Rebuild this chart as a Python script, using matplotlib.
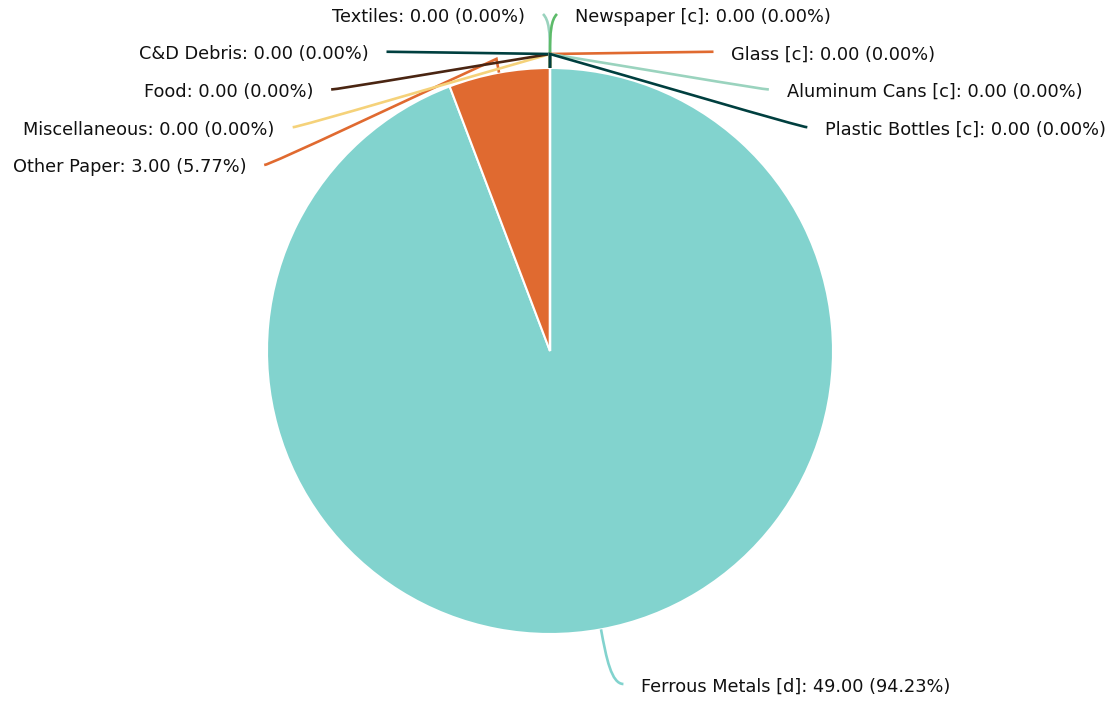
import matplotlib
matplotlib.use('Agg')
import matplotlib.pyplot as plt
import numpy as np
from matplotlib.path import Path
from matplotlib.patches import PathPatch

# ---- data ----
categories = ['Ferrous Metals [d]', 'Other Paper', 'Miscellaneous', 'Food', 'C&D Debris',
              'Textiles', 'Newspaper [c]', 'Glass [c]', 'Aluminum Cans [c]', 'Plastic Bottles [c]']
values = [49, 3, 0, 0, 0, 0, 0, 0, 0, 0]
colors = ['#82D3CE', '#E06A30', '#F5D27A', '#4A2512', '#003F3F',
          '#9AD3BE', '#5DBB6A', '#E06A30', '#9AD3BE', '#003F3F']

# ---- layout (pixel based, y down) ----
W, H = 1120, 702
CX, CY, R = 550, 351, 283
ELBOW = 14
LABEL_R = 341
ROW0, ROW_STEP = 16, 37.75
# side (-1 left, +1 right), row index (None = bottom label)
label_slots = {
    'Ferrous Metals [d]': (1, None),
    'Other Paper': (-1, 4),
    'Miscellaneous': (-1, 3),
    'Food': (-1, 2),
    'C&D Debris': (-1, 1),
    'Textiles': (-1, 0),
    'Newspaper [c]': (1, 0),
    'Glass [c]': (1, 1),
    'Aluminum Cans [c]': (1, 2),
    'Plastic Bottles [c]': (1, 3),
}
BOTTOM_Y = 686
TOP_ROW_DX = 7
TEXT_GAP = 18
LINE_RAISE = 2

fig = plt.figure(figsize=(W / 100, H / 100), dpi=100)
ax = fig.add_axes([0, 0, 1, 1])

def Y(y):
    return H - y

ax.pie(values, colors=colors, startangle=90, counterclock=False,
       center=(CX, Y(CY)), radius=R,
       wedgeprops=dict(edgecolor='white', linewidth=1.5))
ax.set_xlim(0, W)
ax.set_ylim(0, H)
ax.set_aspect('equal')
ax.axis('off')

total = float(sum(values))
cum = 0.0
for name, v, c in zip(categories, values, colors):
    frac = v / total
    theta = np.deg2rad(90 - 360 * cum - 180 * frac)
    cum += frac
    u = np.array([np.cos(theta), np.sin(theta)])  # y up
    center = np.array([CX, Y(CY)])
    p_edge = center + R * u
    p0 = center + (R + ELBOW) * u
    side, row = label_slots[name]
    ly = BOTTOM_Y if row is None else ROW0 + ROW_STEP * row
    line_y = ly - LINE_RAISE
    dy = abs(line_y - CY)
    dx = TOP_ROW_DX if row == 0 else np.sqrt(max(LABEL_R ** 2 - dy ** 2, 0))
    p3 = np.array([CX + side * dx, Y(line_y)])
    dist = np.hypot(*(p3 - p0))
    if row == 0:
        d = abs(p3[1] - p0[1])
        p1 = p0 + np.array([0, 0.55 * d])
        p2 = np.array([p0[0] + side * 1.0, p3[1] - 0.15 * d])
    elif row is None:
        p1 = p0 + u * dist / 3.0
        p2 = p3 - np.array([side * 12, 0])
    else:
        p1 = p0 + (p3 - p0) / 3.0
        p2 = p3 - np.array([side * 6, 0])
    if row is None:
        verts = [tuple(p_edge), tuple(p1), tuple(p2), tuple(p3)]
        codes = [Path.MOVETO, Path.CURVE4, Path.CURVE4, Path.CURVE4]
    else:
        verts = [tuple(p_edge), tuple(p0), tuple(p1), tuple(p2), tuple(p3)]
        codes = [Path.MOVETO, Path.LINETO, Path.CURVE4, Path.CURVE4, Path.CURVE4]
    ax.add_patch(PathPatch(Path(verts, codes), facecolor='none', edgecolor=c,
                           linewidth=1.9, capstyle='butt', zorder=3))
    pct = 100 * frac
    label = f"{name}: {v:.2f} ({pct:.2f}%)"
    ax.text(p3[0] + side * TEXT_GAP, Y(ly) - 0.5, label,
            ha='left' if side > 0 else 'right', va='center',
            fontsize=12.8, color='#111111', family='DejaVu Sans')

fig.savefig('out.png', dpi=100, facecolor='white')
